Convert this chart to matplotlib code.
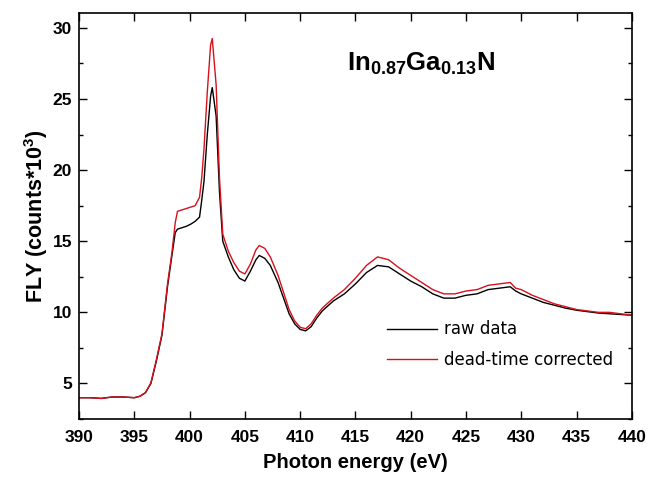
import numpy as np
import matplotlib
matplotlib.use("Agg")
import matplotlib.pyplot as plt
from matplotlib.ticker import MultipleLocator

plt.rcParams['font.family'] = ['Liberation Sans', 'DejaVu Sans']
plt.rcParams['mathtext.fontset'] = 'custom'
plt.rcParams['mathtext.rm'] = 'Liberation Sans:bold'
plt.rcParams['mathtext.bf'] = 'Liberation Sans:bold'

energy = [390, 391, 392, 393, 394, 395, 395.5, 396, 396.5, 397, 397.5, 398, 398.4,
          398.7, 398.9, 399.3, 399.7, 400.1, 400.5, 400.9, 401.1, 401.3, 401.6, 401.9,
          402.05, 402.4, 402.7, 403, 403.5, 404, 404.5, 405, 405.5, 406, 406.3, 406.8,
          407.3, 408, 408.5, 409, 409.5, 410, 410.5, 411, 411.5, 412, 413, 414, 415,
          416, 417, 418, 419, 420, 421, 422, 423, 424, 425, 426, 427, 428, 429, 429.5,
          430, 431, 432, 433, 434, 435, 436, 437, 438, 439, 440]

raw = [4.0, 4.0, 3.95, 4.05, 4.05, 4.0, 4.1, 4.35, 5.0, 6.6, 8.4, 11.8, 14.0,
       15.6, 15.85, 15.95, 16.05, 16.2, 16.4, 16.7, 17.9, 19.2, 22.5, 25.2,
       25.8, 23.8, 18.5, 15.0, 13.9, 13.0, 12.4, 12.2, 12.9, 13.7, 14.0, 13.8,
       13.3, 12.1, 11.0, 9.9, 9.2, 8.8, 8.7, 9.0, 9.6, 10.1, 10.8, 11.3, 12.0,
       12.8, 13.3, 13.2, 12.7, 12.2, 11.8, 11.3, 11.0, 11.0, 11.2, 11.3, 11.6, 11.7, 11.8, 11.5,
       11.3, 11.0, 10.7, 10.5, 10.3, 10.15, 10.05, 9.95, 9.9, 9.85, 9.8]

corrected = [4.0, 4.0, 3.95, 4.05, 4.05, 4.0, 4.1, 4.35, 5.05, 6.7, 8.5, 12.0, 14.2,
             16.3, 17.1, 17.2, 17.3, 17.4, 17.5, 18.1, 19.5, 21.5, 25.5, 28.8,
             29.25, 26.0, 19.5, 15.5, 14.3, 13.5, 12.9, 12.7, 13.4, 14.4, 14.7, 14.5,
             13.9, 12.6, 11.4, 10.2, 9.4, 8.95, 8.85, 9.2, 9.8, 10.3, 11.0, 11.6, 12.4,
             13.3, 13.9, 13.7, 13.1, 12.6, 12.1, 11.6, 11.3, 11.3, 11.5, 11.6, 11.9, 12.0, 12.1, 11.7,
             11.6, 11.2, 10.9, 10.6, 10.4, 10.2, 10.1, 10.0, 10.0, 9.9, 9.8]

fig = plt.figure(figsize=(6.48, 4.8), dpi=100)
ax = fig.add_axes([0.122, 0.127, 0.853, 0.846])

ax.plot(energy, raw, color='black', lw=1.0, label='raw data')
ax.plot(energy, corrected, color='#d8101c', lw=1.0, label='dead-time corrected')

ax.set_xlim(390, 440)
ax.set_ylim(2.5, 31.05)
ax.xaxis.set_major_locator(MultipleLocator(5))
ax.yaxis.set_major_locator(MultipleLocator(5))
ax.yaxis.set_minor_locator(MultipleLocator(2.5))
ax.tick_params(which='both', direction='in', top=True, right=True, width=1)
ax.tick_params(which='major', length=6, labelsize=12.5)
ax.tick_params(axis='x', pad=8)
ax.tick_params(axis='y', pad=5)
ax.tick_params(which='minor', length=3)
for lab in ax.get_xticklabels() + ax.get_yticklabels():
    lab.set_fontweight('bold')
for s in ax.spines.values():
    s.set_linewidth(1.2)

ax.set_xlabel('Photon energy (eV)', fontsize=14.5, fontweight='bold', labelpad=6)
ax.set_ylabel(r'FLY (counts*10$^{3}$)', fontsize=15.5, fontweight='bold', labelpad=2)

ax.text(414.2, 27.5, r'$\mathbf{In_{0.87}Ga_{0.13}N}$', fontsize=18.5, va='center')

ax.legend(loc='upper left', bbox_to_anchor=(0.53, 0.28), frameon=False,
          prop={'family': 'DejaVu Sans', 'size': 12}, handlelength=3.0,
          labelspacing=0.75, handletextpad=0.4)

fig.savefig('out.png', dpi=100)
